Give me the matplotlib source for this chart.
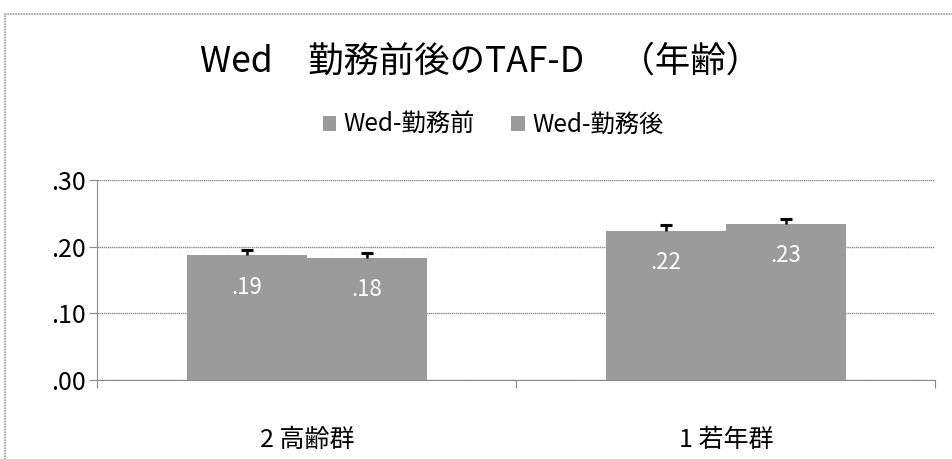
import matplotlib.pyplot as plt
from matplotlib.patches import Rectangle

plt.rcParams['font.family'] = ['Noto Sans CJK JP', 'DejaVu Sans']

# data
categories = ["2 高齢群", "1 若年群"]
series_names = ["Wed-勤務前", "Wed-勤務後"]
before = [0.187, 0.224]
after = [0.183, 0.234]
before_err = [0.008, 0.008]
after_err = [0.008, 0.008]
yticks = [0.0, 0.1, 0.2, 0.3]
ytick_labels = [".00", ".10", ".20", ".30"]

bar_color = "#9b9b9b"
grid_color = "#8a8a8a"

fig = plt.figure(figsize=(9.52, 4.59), dpi=100)
ax = fig.add_axes([0.1024, 0.172, 0.880, 0.436])

# outer chart frame (runs off the right and bottom edges)
fig.patches.append(Rectangle((5 / 952, -0.1), 2.0, 1 - 14 / 459 + 0.1,
                             transform=fig.transFigure, fill=False,
                             edgecolor="#9a9a9a", lw=1.2, linestyle=(0, (1, 0.6))))

x = list(range(len(categories)))
w = 0.286
bars1 = ax.bar([i - w / 2 for i in x], before, w, color=bar_color, zorder=2,
               label=series_names[0])
bars2 = ax.bar([i + w / 2 for i in x], after, w, color=bar_color, zorder=2,
               label=series_names[1])

# error bars: only the upper half, like the original
for xs, vals, errs in (([i - w / 2 for i in x], before, before_err),
                       ([i + w / 2 for i in x], after, after_err)):
    eb = ax.errorbar(xs, vals, yerr=[[0] * len(x), errs], fmt="none",
                     ecolor="black", elinewidth=1.8, capsize=4.5, capthick=2.2,
                     zorder=3)
    eb[1][0].set_visible(False)

for bars, vals in ((bars1, before), (bars2, after)):
    for b, v in zip(bars, vals):
        ax.annotate(f"{v:.2f}".lstrip("0"), (b.get_x() + b.get_width() / 2, v),
                    xytext=(0, -23), textcoords="offset points", ha="center",
                    va="center", color="white", fontsize=16)

ax.set_xlim(-0.5, len(categories) - 0.5)
ax.set_ylim(0, 0.3)
ax.set_yticks(yticks)
ax.set_yticklabels(ytick_labels, fontsize=18)
ax.yaxis.grid(True, color=grid_color, lw=1.0, linestyle=(0, (1, 0.5)))
ax.set_axisbelow(True)

ax.set_xticks([i - 0.5 for i in range(len(categories) + 1)])
ax.set_xticklabels([])
ax.set_xticks(x, minor=True)
ax.set_xticklabels(categories, minor=True, fontsize=18)
ax.tick_params(axis="x", which="minor", length=0, pad=34)
ax.tick_params(axis="x", which="major", length=6, color=grid_color, direction="out")
ax.tick_params(axis="y", length=6, color=grid_color, pad=2)

for s in ("top", "right"):
    ax.spines[s].set_visible(False)
for s in ("left", "bottom"):
    ax.spines[s].set_color(grid_color)

fig.text(0.505, 1 - 62 / 459, "Wed　勤務前後のTAF-D　（年齢）", ha="center",
         va="center", fontsize=25.5)

leg = fig.legend(handles=[bars1, bars2], labels=series_names, loc="center",
                 bbox_to_anchor=(0.518, 1 - 125 / 459), ncol=2, frameon=False,
                 fontsize=17.5, handlelength=0.55, handleheight=0.55,
                 handletextpad=0.3, columnspacing=1.5)

fig.savefig("out.png", dpi=100)
